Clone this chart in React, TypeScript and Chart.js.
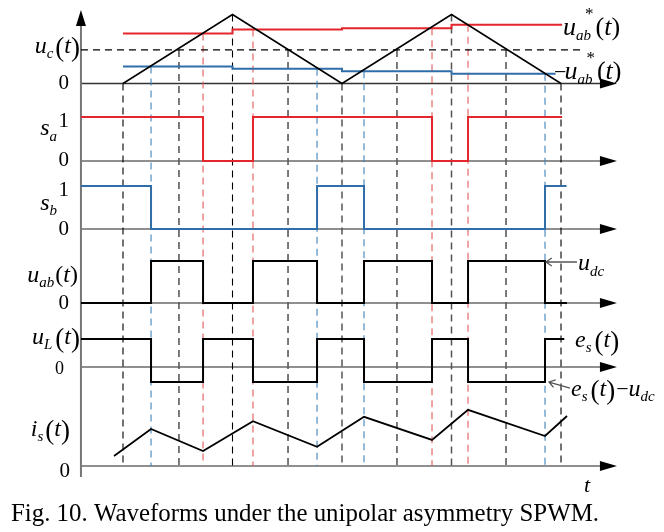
import React, { useEffect, useRef } from 'react';
import { Chart, registerables } from 'chart.js';
Chart.register(...registerables);

// Time unit: half a carrier period; t = 0 at the start of the carrier.
const carrierT = [0, 1, 2, 3, 4];
const carrierV = [0, 1, 0, 1, 0];

// Modulating references (per half period)
const refT = [0, 1, 2, 3, 4.01];
const refV = [0.725, 0.783, 0.8, 0.85, 0.85];
const negRefT = [0, 1, 2, 3, 3.95];
const negRefV = [0.246, 0.213, 0.178, 0.14, 0.14];
const ucLevel = 0.486;
const ucSpanT = [-0.384, 4.192];

// Switching instants
const redSwitchT = [0.731, 1.187, 2.822, 3.151];
const blueSwitchT = [0.256, 1.772, 2.201, 3.854];
const ucCrossT = [0.511, 1.507, 2.502, 3.498];

// Switching functions
const saT = [-0.384, 0.731, 1.187, 2.822, 3.151, 4.01];
const saV = [1, 0, 1, 0, 1, 1];
const sbT = [-0.384, 0.256, 1.772, 2.201, 3.854, 4.05];
const sbV = [1, 0, 1, 0, 1, 1];

// Output voltage u_ab (in u_dc units)
const uabT = [-0.384, 0.256, 0.731, 1.187, 1.772, 2.201, 2.822, 3.151, 3.854, 4.055];
const uabV = [0, 1, 0, 1, 0, 1, 0, 1, 0, 0];

// Inductor voltage u_L = e_s - u_ab
const uLT = [-0.384, 0.256, 0.731, 1.187, 1.772, 2.201, 2.822, 3.151, 3.854, 4.03];
const uLV = [0.65, -0.35, 0.65, -0.35, 0.65, -0.35, 0.65, -0.35, 0.65, 0.65];

// Grid current i_s
const isT = [-0.082, 0.256, 0.731, 1.187, 1.772, 2.201, 2.822, 3.151, 3.854, 4.055];
const isV = [0.23, 0.85, 0.345, 1.03, 0.44, 1.13, 0.6, 1.29, 0.69, 1.15];

// ---- layout (positions / sizes only) ----
const X_RANGE = { min: -1.1233, max: 4.9406 };
const AXIS_T = -0.384;
const ARROW_T = 4.511;
const AXIS_LINE_END_T = 4.42;
const PANEL = {
  carrier: { base: 83.5, unit: 69 },
  sa: { base: 161, unit: 44 },
  sb: { base: 229, unit: 43 },
  uab: { base: 303, unit: 42 },
  uL: { base: 367, unit: 43 },
  is: { base: 466, unit: 43.5 },
};

const RED = '#e3262b';
const BLUE = '#2f6ea8';
const RED_D = '#e05a5a';
const BLUE_D = '#3f82ba';
const FONT = '"Liberation Serif", "Times New Roman", serif';

type P = { base: number; unit: number };
const pts = (ts: number[], vs: number[], p: P) => ts.map((t, i) => ({ x: t, y: p.base - vs[i] * p.unit }));

const lineDs = (data: any[], color: string, width: number, extra: any = {}) => ({
  data,
  borderColor: color,
  backgroundColor: color,
  borderWidth: width,
  pointRadius: 0,
  showLine: true,
  fill: false,
  tension: 0,
  ...extra,
});

type Part = { s: string; it?: boolean; size: number; dy?: number; dx?: number };
function rich(ctx: CanvasRenderingContext2D, x: number, y: number, parts: Part[], align: 'left' | 'right' = 'left') {
  let w = 0;
  for (const p of parts) {
    ctx.font = `${p.it ? 'italic ' : ''}${p.size}px ${FONT}`;
    w += ctx.measureText(p.s).width + (p.dx || 0);
  }
  let cx = align === 'right' ? x - w : x;
  for (const p of parts) {
    ctx.font = `${p.it ? 'italic ' : ''}${p.size}px ${FONT}`;
    cx += p.dx || 0;
    ctx.fillText(p.s, cx, y + (p.dy || 0));
    cx += ctx.measureText(p.s).width;
  }
}

function chevronArrow(ctx: CanvasRenderingContext2D, x0: number, y0: number, x1: number, y1: number) {
  const a = Math.atan2(y1 - y0, x1 - x0);
  ctx.beginPath();
  ctx.moveTo(x0, y0);
  ctx.lineTo(x1, y1);
  const L = 7;
  ctx.moveTo(x1 - L * Math.cos(a - 0.6), y1 - L * Math.sin(a - 0.6));
  ctx.lineTo(x1, y1);
  ctx.lineTo(x1 - L * Math.cos(a + 0.6), y1 - L * Math.sin(a + 0.6));
  ctx.stroke();
}

const axesPlugin = {
  id: 'axesPlugin',
  beforeDatasetsDraw(chart: any) {
    const ctx = chart.ctx as CanvasRenderingContext2D;
    const xs = chart.scales.x;
    const ys = chart.scales.y;
    const x0 = xs.getPixelForValue(AXIS_T);
    const xe = xs.getPixelForValue(AXIS_LINE_END_T);
    const xt = xs.getPixelForValue(ARROW_T);
    ctx.save();
    const bases = [PANEL.carrier.base, PANEL.sa.base, PANEL.sb.base, PANEL.uab.base, PANEL.uL.base, PANEL.is.base];
    bases.forEach((b, i) => {
      const y = ys.getPixelForValue(b);
      ctx.strokeStyle = i === 0 ? '#333' : '#6a6a6a';
      ctx.lineWidth = i === 0 ? 1.3 : 1.6;
      ctx.beginPath();
      ctx.moveTo(x0, y);
      ctx.lineTo(xe, y);
      ctx.stroke();
      ctx.fillStyle = '#000';
      ctx.beginPath();
      ctx.moveTo(xt, y);
      ctx.lineTo(xt - 17, y - 5);
      ctx.lineTo(xt - 17, y + 5);
      ctx.closePath();
      ctx.fill();
    });
    const yb = ys.getPixelForValue(477);
    const ytip = ys.getPixelForValue(10);
    ctx.strokeStyle = '#777';
    ctx.lineWidth = 2;
    ctx.beginPath();
    ctx.moveTo(x0, yb);
    ctx.lineTo(x0, ytip + 14);
    ctx.stroke();
    ctx.fillStyle = '#000';
    ctx.beginPath();
    ctx.moveTo(x0, ytip);
    ctx.lineTo(x0 - 5, ytip + 16);
    ctx.lineTo(x0 + 5, ytip + 16);
    ctx.closePath();
    ctx.fill();
    ctx.restore();
  },
};

const labelsPlugin = {
  id: 'labelsPlugin',
  afterDatasetsDraw(chart: any) {
    const ctx = chart.ctx as CanvasRenderingContext2D;
    ctx.save();
    ctx.fillStyle = '#000';
    ctx.textBaseline = 'alphabetic';
    const M = 24;
    const S = 15;
    const PAR = 27;
    rich(ctx, 80, 53, [
      { s: 'u', it: true, size: M },
      { s: 'c', it: true, size: S, dy: 5 },
      { s: '(', size: PAR, dy: 3, dx: 2 },
      { s: 't', it: true, size: M },
      { s: ')', size: PAR, dy: 3 },
    ], 'right');
    rich(ctx, 69, 89, [{ s: '0', size: 21 }], 'right');
    rich(ctx, 57, 135, [
      { s: 's', it: true, size: M },
      { s: 'a', it: true, size: S, dy: 6 },
    ], 'right');
    rich(ctx, 69, 127, [{ s: '1', size: 21 }], 'right');
    rich(ctx, 69, 166, [{ s: '0', size: 21 }], 'right');
    rich(ctx, 57, 210, [
      { s: 's', it: true, size: M },
      { s: 'b', it: true, size: S, dy: 5 },
    ], 'right');
    rich(ctx, 69, 196, [{ s: '1', size: 21 }], 'right');
    rich(ctx, 69, 235, [{ s: '0', size: 21 }], 'right');
    rich(ctx, 78, 282, [
      { s: 'u', it: true, size: M },
      { s: 'ab', it: true, size: S, dy: 5 },
      { s: '(', size: M, dx: 1 },
      { s: 't', it: true, size: M },
      { s: ')', size: M },
    ], 'right');
    rich(ctx, 69, 309, [{ s: '0', size: 21 }], 'right');
    rich(ctx, 80, 344, [
      { s: 'u', it: true, size: M },
      { s: 'L', it: true, size: S, dy: 5 },
      { s: '(', size: PAR, dy: 3, dx: 3 },
      { s: 't', it: true, size: M },
      { s: ')', size: PAR, dy: 3 },
    ], 'right');
    rich(ctx, 64, 374, [{ s: '0', size: 18 }], 'right');
    rich(ctx, 70, 436, [
      { s: 'i', it: true, size: M },
      { s: 's', it: true, size: S, dy: 5 },
      { s: '(', size: PAR, dy: 3, dx: 2 },
      { s: 't', it: true, size: M },
      { s: ')', size: PAR, dy: 3 },
    ], 'right');
    rich(ctx, 70, 477, [{ s: '0', size: 21 }], 'right');

    rich(ctx, 563, 35, [
      { s: 'u', it: true, size: 26 },
      { s: 'ab', it: true, size: S, dy: 5 },
      { s: '*', size: 17, dy: -16, dx: -6 },
      { s: '(', size: 26, dx: 2 },
      { s: 't', it: true, size: 26 },
      { s: ')', size: 26 },
    ]);
    rich(ctx, 554, 79, [
      { s: '\u2212', size: 22 },
      { s: 'u', it: true, size: 26, dx: -2 },
      { s: 'ab', it: true, size: S, dy: 5 },
      { s: '*', size: 17, dy: -16, dx: -6 },
      { s: '(', size: 26, dx: 2 },
      { s: 't', it: true, size: 26 },
      { s: ')', size: 26 },
    ]);
    ctx.strokeStyle = '#555';
    ctx.lineWidth = 1.3;
    chevronArrow(ctx, 577, 262, 546, 262);
    rich(ctx, 578, 270, [
      { s: 'u', it: true, size: M },
      { s: 'dc', it: true, size: S, dy: 6 },
    ]);
    rich(ctx, 575, 347, [
      { s: 'e', it: true, size: M },
      { s: 's', it: true, size: S, dy: 5 },
      { s: '(', size: PAR, dy: 3, dx: 3 },
      { s: 't', it: true, size: M },
      { s: ')', size: PAR, dy: 3 },
    ]);
    chevronArrow(ctx, 570, 388, 549, 382);
    rich(ctx, 571, 396, [
      { s: 'e', it: true, size: M },
      { s: 's', it: true, size: S, dy: 5 },
      { s: '(', size: PAR, dy: 3, dx: 3 },
      { s: 't', it: true, size: M },
      { s: ')', size: PAR, dy: 3 },
      { s: '\u2212', size: 22, dx: 1 },
      { s: 'u', it: true, size: M },
      { s: 'dc', it: true, size: S, dy: 5 },
    ]);
    rich(ctx, 584, 492, [{ s: 't', it: true, size: 22 }]);

    const cap = 'Fig. 10. Waveforms under the unipolar asymmetry SPWM.';
    ctx.font = `26px ${FONT}`;
    const w = ctx.measureText(cap).width;
    const target = 588;
    ctx.save();
    ctx.translate(11, 521);
    ctx.scale(target / w, 1);
    ctx.fillText(cap, 0, 0);
    ctx.restore();
    ctx.restore();
  },
};

export default function App() {
  const ref = useRef<HTMLCanvasElement | null>(null);
  useEffect(() => {
    if (!ref.current) return;
    const C = PANEL.carrier;
    const datasets: any[] = [
      lineDs(pts(uabT, uabV, PANEL.uab), '#000', 2, { stepped: 'before' }),
      lineDs(pts(uLT, uLV, PANEL.uL), '#000', 2, { stepped: 'before' }),
      lineDs(pts(isT, isV, PANEL.is), '#000', 1.8),
      lineDs(pts(saT, saV, PANEL.sa), RED, 2, { stepped: 'before' }),
      lineDs(pts(sbT, sbV, PANEL.sb), BLUE, 2, { stepped: 'before' }),
      lineDs(pts(carrierT, carrierV, C), '#000', 1.5),
      lineDs(pts(refT, refV, C), RED, 2, { stepped: 'before' }),
      lineDs(pts(negRefT, negRefV, C), BLUE, 2, { stepped: 'before' }),
      lineDs(pts(ucSpanT, [ucLevel, ucLevel], C), '#000', 1.2, { borderDash: [7, 5] }),
    ];
    const bottom = PANEL.is.base;
    const guide = (t: number, topV: number, color: string, width: number) =>
      lineDs([{ x: t, y: C.base - topV * C.unit }, { x: t, y: bottom }], color, width, { borderDash: [7, 5] });
    carrierT.forEach((t, i) => {
      const dark = i === 2 || i === 3;
      datasets.push(guide(t, carrierV[i], dark ? '#555' : '#000', dark ? 1.5 : 1.1));
    });
    ucCrossT.forEach((t) => datasets.push(guide(t, ucLevel, '#5a5a5a', 1.6)));
    redSwitchT.forEach((t) => datasets.push(guide(t, refV[Math.floor(t)], RED_D, 1.1)));
    blueSwitchT.forEach((t) => datasets.push(guide(t, negRefV[Math.floor(t)], BLUE_D, 1.1)));

    const chart = new Chart(ref.current, {
      type: 'scatter',
      data: { datasets },
      options: {
        responsive: false,
        animation: false,
        devicePixelRatio: 1,
        layout: { padding: 0 },
        plugins: { legend: { display: false }, tooltip: { enabled: false }, title: { display: false } },
        scales: {
          x: { type: 'linear', min: X_RANGE.min, max: X_RANGE.max, display: false },
          y: { type: 'linear', min: 0, max: 532, reverse: true, display: false },
        },
      },
      plugins: [axesPlugin, labelsPlugin],
    } as any);
    return () => chart.destroy();
  }, []);
  return (
    <div style={{ position: 'fixed', left: 0, top: 0, width: 664, height: 532, background: '#fff' }}>
      <canvas ref={ref} width={664} height={532} style={{ display: 'block', width: 664, height: 532 }} />
    </div>
  );
}
